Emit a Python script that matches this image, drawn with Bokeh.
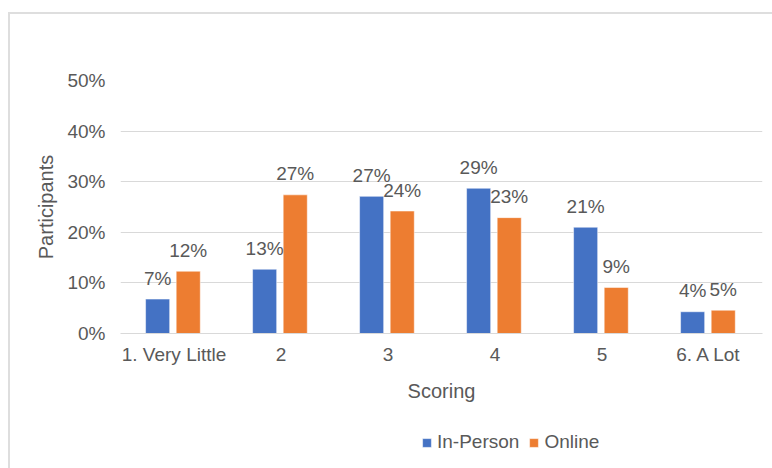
from bokeh.plotting import figure
from bokeh.layouts import column
from bokeh.models import (ColumnDataSource, FixedTicker, NumeralTickFormatter,
                          Legend, LegendItem, Range1d)
from bokeh.core.properties import value
from bokeh.transform import dodge
from bokeh.embed import file_html
from bokeh.resources import INLINE

# Share of participants per score, by session format
categories = ["1. Very Little", "2", "3", "4", "5", "6. A Lot"]
in_person = [0.068, 0.127, 0.271, 0.287, 0.210, 0.043]
online = [0.123, 0.274, 0.242, 0.229, 0.091, 0.046]
series_names = ["In-Person", "Online"]
y_ticks = [0.0, 0.1, 0.2, 0.3, 0.4, 0.5]

BLUE = "#4472C4"
ORANGE = "#ED7D31"
TEXT = "#595959"
GRID = "#D9D9D9"
EDGE = "2px solid #DEDEDE"
FONT = "Liberation Sans"


def pct(v):
    return f"{round(v * 100):.0f}%"


src = ColumnDataSource(dict(
    cat=categories,
    inp=in_person,
    onl=online,
    inp_lbl=[pct(v) for v in in_person],
    onl_lbl=[pct(v) for v in online],
))

p = figure(
    x_range=categories,
    y_range=Range1d(0, 0.5),
    width=762, height=400,
    frame_width=640, frame_height=251,
    output_backend="svg",
    toolbar_location=None,
    min_border_left=110, min_border_right=12,
    min_border_top=66, min_border_bottom=83,
)
p.margin = (12, 0, 0, 8)
p.styles = {"border-top": EDGE, "border-left": EDGE}
p.outline_line_color = None
p.background_fill_color = "white"
p.border_fill_color = "white"

OFF_IN, OFF_ON = -0.153, 0.133
W = 0.225
r_in = p.vbar(x=dodge("cat", OFF_IN, range=p.x_range), top="inp", width=W,
              source=src, fill_color=BLUE, line_color="white", line_width=0.5)
r_on = p.vbar(x=dodge("cat", OFF_ON, range=p.x_range), top="onl", width=W,
              source=src, fill_color=ORANGE, line_color="white", line_width=0.5)

for col, lbl, off in (("inp", "inp_lbl", OFF_IN), ("onl", "onl_lbl", OFF_ON)):
    p.text(x=dodge("cat", off, range=p.x_range), y=col, text=lbl, source=src,
           y_offset=-21, text_align="center", text_baseline="middle",
           text_font_size="19px", text_color=TEXT, text_font=value(FONT))

# axes
p.yaxis.ticker = FixedTicker(ticks=y_ticks)
p.yaxis.formatter = NumeralTickFormatter(format="0%")
for ax in (p.xaxis[0], p.yaxis[0]):
    ax.major_tick_line_color = None
    ax.minor_tick_line_color = None
    ax.major_label_text_font = FONT
    ax.major_label_text_font_size = "19px"
    ax.major_label_text_color = TEXT
    ax.axis_label_text_font = FONT
    ax.axis_label_text_font_size = "20px"
    ax.axis_label_text_font_style = "normal"
    ax.axis_label_text_color = TEXT
p.yaxis.axis_line_color = None
p.xaxis.axis_line_color = GRID
p.yaxis.major_label_standoff = 9
p.xaxis.major_label_standoff = 4
p.xaxis.axis_label = "Scoring"
p.yaxis.axis_label = "Participants"
p.xaxis.axis_label_standoff = 12
p.yaxis.axis_label_standoff = 7

p.xgrid.grid_line_color = None
p.ygrid.grid_line_color = GRID
p.ygrid.grid_line_width = 1

# legend strip under the chart; its swatch renderers are zero-height bars
key = figure(
    width=762, height=54,
    x_range=Range1d(0, 1), y_range=Range1d(0, 1),
    x_axis_type=None, y_axis_type=None,
    output_backend="svg", toolbar_location=None,
    min_border=0,
)
key.margin = (0, 0, 0, 8)
key.styles = {"border-left": EDGE}
key.outline_line_color = None
key.background_fill_color = "white"
key.border_fill_color = "white"
k_in = key.vbar(x="inp", bottom="inp", top="inp", width=0, source=src,
                fill_color=BLUE, line_color="white", line_width=0.5)
k_on = key.vbar(x="onl", bottom="onl", top="onl", width=0, source=src,
                fill_color=ORANGE, line_color="white", line_width=0.5)

legend = Legend(
    items=[LegendItem(label=series_names[0], renderers=[k_in]),
           LegendItem(label=series_names[1], renderers=[k_on])],
    orientation="horizontal", location=(301, 15),
    label_text_font=FONT, label_text_font_size="19px", label_text_color=TEXT,
    glyph_width=11, glyph_height=11, label_standoff=5, spacing=9,
    border_line_color=None, background_fill_alpha=0, margin=0, padding=0,
)
key.add_layout(legend, "center")

layout = column(p, key, spacing=0)

open("out.html", "w").write(file_html(layout, INLINE))
